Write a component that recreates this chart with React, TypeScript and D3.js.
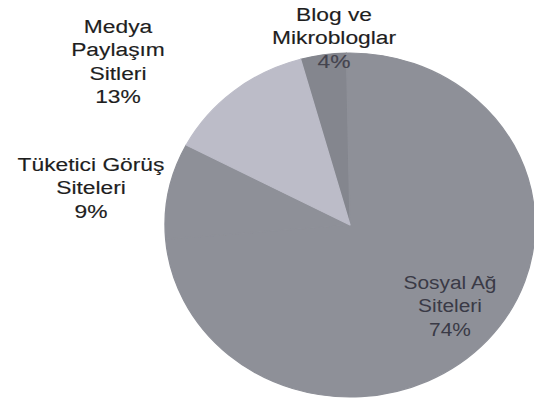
import React from "react";
import * as d3 from "d3";

// Data
const categories = ["Blog ve Mikrobloglar", "Sosyal Ağ Siteleri", "Tüketici Görüş Siteleri", "Medya Paylaşım Sitleri"];
const categoryLines = [
  ["Blog ve", "Mikrobloglar"],
  ["Sosyal Ağ", "Siteleri"],
  ["Tüketici Görüş", "Siteleri"],
  ["Medya", "Paylaşım", "Sitleri"],
];
const values = [4, 74, 9, 13];

const W = 534;
const H = 398;
const CX = 350;
const CY = 225;
const RY = 172;
const RX = 185;
const START_DEG = -15.5;

const fills = ["#84868e", "#8e9098", "#8e9098", "#bcbcc8"];
// label layout: center x, first baseline y, font scaleX, color
const labelLayout = [
  { x: 334, y: 21, sx: 1.2, color: "#1e1e1e", pctColor: "#44444e", sw: 0.15 },
  { x: 450, y: 289, sx: 1.1, color: "#3a3a46", pctColor: "#3a3a46", sw: 0 },
  { x: 91, y: 171, sx: 1.2, color: "#1e1e1e", pctColor: "#1e1e1e", sw: 0.15 },
  { x: 118, y: 33, sx: 1.2, color: "#1e1e1e", pctColor: "#1e1e1e", sw: 0.15 },
];

export default function App() {
  const start = (START_DEG * Math.PI) / 180;
  const pie = d3
    .pie<number>()
    .sort(null)
    .startAngle(start)
    .endAngle(start + 2 * Math.PI);
  const arcs = pie(values);
  const arc = d3.arc<d3.PieArcDatum<number>>().innerRadius(0).outerRadius(RY);
  const lineH = 23.3;

  return (
    <div style={{ position: "fixed", left: 0, top: 0 }}>
      <svg width={W} height={H} style={{ display: "block", background: "#ffffff" }}>
        <g transform={`translate(${CX},${CY}) scale(${RX / RY},1)`}>
          {arcs.map((a, i) => (
            <path key={categories[i]} d={arc(a) || ""} fill={fills[i]} stroke={fills[i]} strokeWidth={1.2} strokeLinejoin="round" />
          ))}
        </g>
        {categories.map((c, i) => {
          const L = labelLayout[i];
          const lines = [...categoryLines[i], `${values[i]}%`];
          return (
            <g key={c} transform={`translate(${L.x},${L.y})`}>
              {lines.map((t, j) => {
                const col = j === lines.length - 1 ? L.pctColor : L.color;
                return (
                  <text
                    key={j}
                    transform={`translate(0,${j * lineH}) scale(${L.sx},1)`}
                    textAnchor="middle"
                    fontFamily="'Liberation Sans', Arial, sans-serif"
                    fontSize={19}
                    fill={col}
                    stroke={col}
                    strokeWidth={L.sw}
                  >
                    {t}
                  </text>
                );
              })}
            </g>
          );
        })}
      </svg>
    </div>
  );
}
